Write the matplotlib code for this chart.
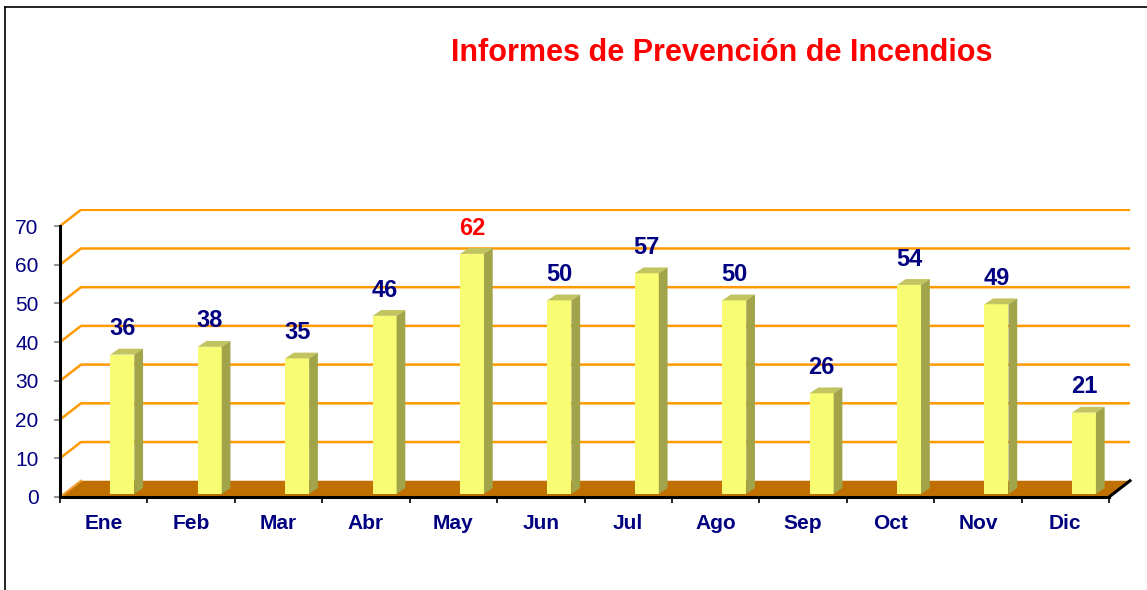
# -*- coding: utf-8 -*-
import matplotlib.pyplot as plt
from matplotlib.patches import Polygon
from matplotlib.lines import Line2D

meses = ['Ene', 'Feb', 'Mar', 'Abr', 'May', 'Jun', 'Jul', 'Ago', 'Sep', 'Oct', 'Nov', 'Dic']
informes = [36, 38, 35, 46, 62, 50, 57, 50, 26, 54, 49, 21]
y_ticks = [0, 10, 20, 30, 40, 50, 60, 70]
titulo = 'Informes de Prevención de Incendios'

plt.rcParams['font.family'] = ['Liberation Sans', 'DejaVu Sans']
azul = '#000080'

# pseudo 3d: depth offset of the back wall and of the bars
dx, dy = 0.24, 4.2
bar_left, bar_w = 0.575, 0.275
bx, by = 0.1, 1.5
b0 = 0.8

fig = plt.figure(figsize=(11.47, 5.90), dpi=100)
ax = fig.add_axes([60 / 1147, 93 / 590, 1070 / 1147, 288 / 590])
n = len(meses)
top = y_ticks[-1]
ax.set_xlim(0, n + dx)
ax.set_ylim(0, top + dy + 0.2)
ax.patch.set_visible(False)

# frame around the chart area
fig.add_artist(Line2D([5 / 1147, 1.0], [1 - 7 / 590, 1 - 7 / 590], color='black', lw=1.2,
                      transform=fig.transFigure))
fig.add_artist(Line2D([5 / 1147, 5 / 1147], [0, 1 - 7 / 590], color='black', lw=1.2,
                      transform=fig.transFigure))

# back wall grid lines
for v in y_ticks[1:]:
    ax.plot([0, dx, n + dx], [v, v + dy, v + dy], color='#FF9900', lw=1.8,
            solid_capstyle='butt', zorder=1)

# floor
ax.add_patch(Polygon([(0, 0), (n, 0), (n + dx, dy), (dx, dy)], closed=True,
                     facecolor='#C07000', edgecolor='none', zorder=2))
ax.plot([0, dx], [0, dy], color='#F0A030', lw=1.5, zorder=2)
ax.plot([n, n + dx], [0, dy], color='black', lw=2.2, zorder=5, clip_on=False)

# bars
for i, v in enumerate(informes):
    x0 = i + bar_left
    x1 = x0 + bar_w
    y0 = b0
    y1 = b0 + v
    ax.add_patch(Polygon([(x0, y0), (x1, y0), (x1, y1), (x0, y1)], closed=True,
                         facecolor='#F8FC72', edgecolor='none', zorder=3))
    ax.add_patch(Polygon([(x0, y1), (x1, y1), (x1 + bx, y1 + by), (x0 + bx, y1 + by)], closed=True,
                         facecolor='#C2C460', edgecolor='none', zorder=3))
    ax.add_patch(Polygon([(x1, y0), (x1 + bx, y0 + by), (x1 + bx, y1 + by), (x1, y1)], closed=True,
                         facecolor='#A2A44A', edgecolor='none', zorder=3))
    color = 'red' if v == max(informes) else azul
    ax.text(x0 + bar_w / 2, y1 + by + 2.2, str(v), ha='center', va='bottom',
            fontsize=17, fontweight='bold', color=color, zorder=4)

# axes
for side in ['top', 'right']:
    ax.spines[side].set_visible(False)
ax.spines['left'].set_bounds(0, top)
ax.spines['bottom'].set_bounds(0, n)
ax.spines['left'].set_linewidth(2.2)
ax.spines['bottom'].set_linewidth(2.2)
ax.spines['left'].set_zorder(5)
ax.spines['bottom'].set_zorder(5)

ax.set_yticks(y_ticks)
ax.set_yticklabels([str(t) for t in y_ticks])
ax.tick_params(axis='y', length=4.5, width=1.2, color='#808080', pad=11,
               labelsize=15, labelcolor=azul)

ax.set_xticks(range(n + 1))
ax.set_xticklabels([])
ax.set_xticks([i + 0.5 for i in range(n)], minor=True)
ax.set_xticklabels(meses, minor=True, fontsize=15, fontweight='bold', color=azul)
ax.tick_params(axis='x', which='major', length=4.5, width=1.2, color='black')
ax.tick_params(axis='x', which='minor', length=0, pad=12)

fig.text(722 / 1147, 1 - 53 / 590, titulo, ha='center', va='center',
         fontsize=22, fontweight='bold', color='#FF0000')

plt.savefig('out.png', dpi=100)
